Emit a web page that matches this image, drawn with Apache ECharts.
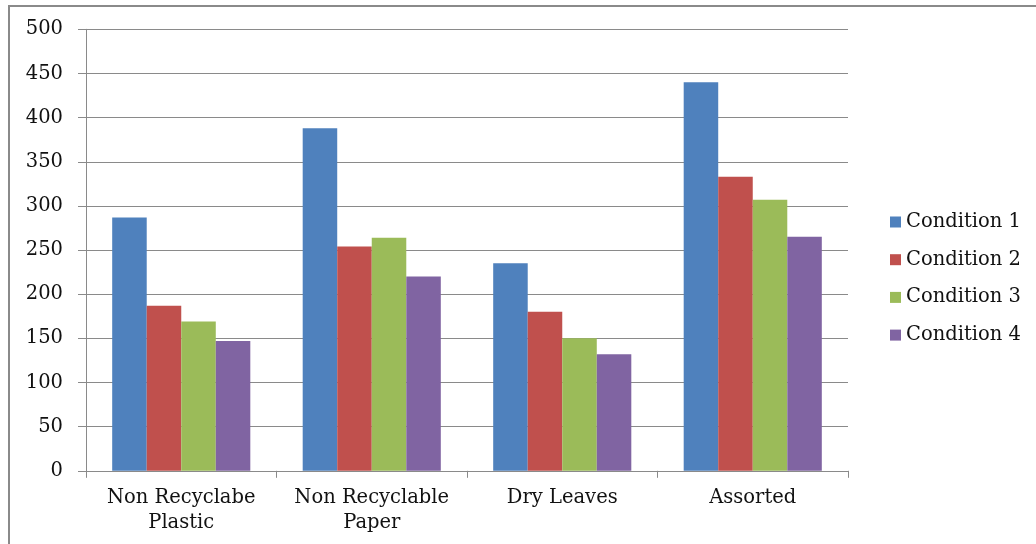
<!DOCTYPE html>
<html>
<head>
<meta charset="utf-8">
<script src="https://cdn.jsdelivr.net/npm/echarts@6/dist/echarts.min.js"></script>
<style>
  html, body { margin: 0; padding: 0; background: #fff; overflow: hidden; }
  #frame { position: absolute; left: 8px; top: 5px; width: 1040px; height: 560px;
           border: 2px solid #8a8a8a; box-sizing: border-box; }
  #chart { position: absolute; left: 0; top: 0; width: 1036px; height: 544px; }
</style>
</head>
<body>
<div id="frame"></div>
<div id="chart"></div>
<script>
// Waste categories along the x axis
const categories = ['Non Recyclabe\nPlastic', 'Non Recyclable\nPaper', 'Dry Leaves', 'Assorted'];
// One value per category for each condition
const condition1 = [287, 388, 235, 440];
const condition2 = [187, 254, 180, 333];
const condition3 = [169, 264, 150, 307];
const condition4 = [147, 220, 132, 265];
const seriesNames = ['Condition 1', 'Condition 2', 'Condition 3', 'Condition 4'];
const seriesValues = [condition1, condition2, condition3, condition4];
const colors = ['#4F81BD', '#C0504D', '#9BBB59', '#8064A2'];

const font = 'DejaVu Serif';
const textColor = '#111';
const chart = echarts.init(document.getElementById('chart'));

chart.setOption({
  animation: false,
  color: colors,
  textStyle: { fontFamily: font },
  grid: { left: 86, right: 188, top: 29.3, bottom: 73.2, containLabel: false },
  legend: {
    orient: 'vertical',
    left: 885,
    top: 207,
    itemWidth: 11,
    itemHeight: 11,
    itemGap: 17.7,
    icon: 'rect',
    textStyle: { fontFamily: font, fontSize: 19.5, lineHeight: 20, color: textColor },
    data: seriesNames
  },
  xAxis: {
    type: 'category',
    data: categories,
    axisLine: { lineStyle: { color: '#8a8a8a', width: 1 } },
    axisTick: { show: true, interval: 0, length: 7, lineStyle: { color: '#8a8a8a' } },
    axisLabel: { interval: 0, fontFamily: font, fontSize: 19.5, color: textColor, margin: 15, lineHeight: 25 }
  },
  yAxis: {
    type: 'value',
    min: 0,
    max: 500,
    interval: 50,
    axisLine: { show: true, lineStyle: { color: '#8a8a8a', width: 1 } },
    axisTick: { show: true, length: 8, lineStyle: { color: '#8a8a8a' } },
    axisLabel: { fontFamily: font, fontSize: 19.5, color: textColor, margin: 23 },
    splitLine: { lineStyle: { color: '#8a8a8a', width: 1 } }
  },
  series: seriesNames.map((name, i) => ({
    name: name,
    type: 'bar',
    data: seriesValues[i],
    barGap: '0%',
    barCategoryGap: '27.5%',
    itemStyle: { color: colors[i] }
  }))
});
</script>
</body>
</html>
